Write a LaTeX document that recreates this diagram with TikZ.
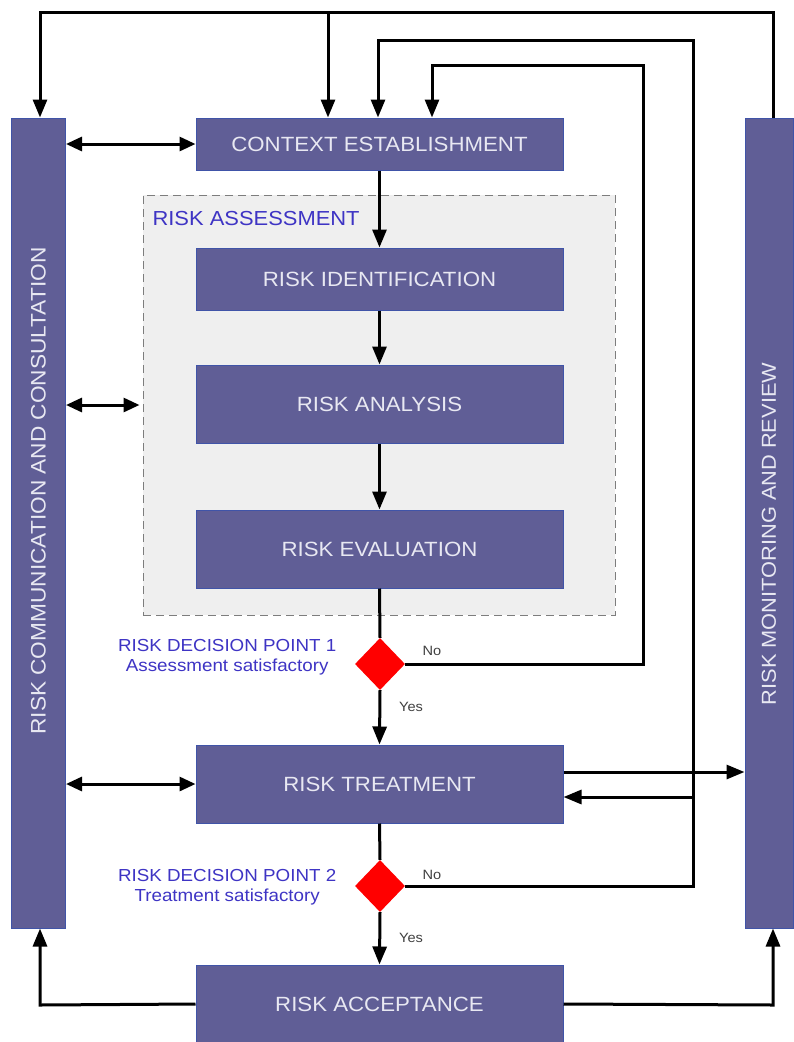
\documentclass[tikz,border=0pt]{standalone}
\usepackage{fontspec}
\setmainfont[FakeStretch=1.08]{Liberation Sans}
\usetikzlibrary{arrows.meta,shapes.geometric}

\definecolor{stagefill}{RGB}{96,94,150}
\definecolor{stageedge}{RGB}{64,84,168}
\definecolor{stagetext}{RGB}{232,232,242}
\definecolor{decisionblue}{RGB}{62,52,196}
\definecolor{assessfill}{RGB}{239,239,239}
\definecolor{assessedge}{RGB}{125,125,125}

\tikzset{
  stage/.style={draw=stageedge, line width=1pt, fill=stagefill, text=stagetext,
    minimum width=367pt, inner sep=0pt, font=\fontsize{20.6}{24}\selectfont},
  sidebar/.style={draw=stageedge, line width=1pt, fill=stagefill,
    minimum height=810pt, inner sep=0pt},
  bartext/.style={text=stagetext, rotate=90, inner sep=0pt},
  decision/.style={diamond, fill=red, minimum width=50pt, minimum height=52pt, inner sep=0pt},
  flow/.style={line width=3pt, -{Triangle[length=18pt,width=14pt]}},
  twoway/.style={line width=3pt, {Triangle[length=16pt,width=14pt]}-{Triangle[length=16pt,width=14pt]}},
  wire/.style={line width=3pt},
  dtext/.style={text=decisionblue, align=center, font=\fontsize{17.4}{19.5}\selectfont},
  answer/.style={text=black!75, font=\fontsize{13.5}{15}\selectfont},
}

\begin{document}
\begin{tikzpicture}[x=1pt,y=-1pt]

  \newcommand\stageX{379.5}
  \useasboundingbox (0,0) rectangle (793,1042);

  %% risk assessment frame
  \node[draw=assessedge, dash pattern=on 8pt off 5pt, line width=1pt, fill=assessfill,
    minimum width=472pt, minimum height=420pt] (assess) at (379,405) {};
  \node[anchor=west, text=decisionblue, font=\fontsize{20.3}{22}\selectfont]
    (assesslbl) at (149,219) {RISK ASSESSMENT};

  %% side bars
  \node[sidebar, minimum width=54pt] (comm) at (38.5,523) {};
  \node[sidebar, minimum width=48pt] (monit) at (769,523) {};
  \node[bartext, font=\fontsize{21}{24}\selectfont] (commlbl) at ([yshift=32pt]comm.center)
    {RISK COMMUNICATION AND CONSULTATION};
  \node[bartext, font=\fontsize{20.2}{24}\selectfont] (monitlbl) at ([yshift=-11pt]monit.center)
    {RISK MONITORING AND REVIEW};

  %% main column
  \node[stage, minimum height=52pt] (ctx) at (\stageX,144) {CONTEXT ESTABLISHMENT};
  \node[stage, minimum height=62pt] (ident) at (\stageX,279) {RISK IDENTIFICATION};
  \node[stage, minimum height=78pt] (anal) at (\stageX,404) {RISK ANALYSIS};
  \node[stage, minimum height=78pt] (evalu) at (\stageX,549) {RISK EVALUATION};
  \node[stage, minimum height=78pt] (treat) at (\stageX,784) {RISK TREATMENT};
  \node[stage, minimum height=78pt] (accept) at (\stageX,1004) {RISK ACCEPTANCE};

  %% decision points
  \node[decision] (dp1) at (380,664) {};
  \node[decision] (dp2) at (380,886) {};
  \node[dtext, anchor=east] (dp1txt) at ([xshift=-15pt,yshift=7pt]dp1.west)
    {RISK DECISION POINT 1\\Assessment satisfactory};
  \node[dtext, anchor=east] (dp2txt) at ([xshift=-15pt,yshift=-1pt]dp2.west)
    {RISK DECISION POINT 2\\Treatment satisfactory};
  \node[answer] (no1) at (432,651) {No};
  \node[answer] (yes1) at (411,707) {Yes};
  \node[answer] (no2) at (432,875) {No};
  \node[answer] (yes2) at (411,938) {Yes};

  %% corner points of the feedback lines
  \coordinate (topL) at (40,12);
  \coordinate (topR) at (773,12);
  \coordinate (topC) at (328,12);
  \coordinate (loopB) at (693,40);
  \coordinate (entryB) at (378,40);
  \coordinate (loopA) at (643,65);
  \coordinate (entryA) at (432,65);
  \coordinate (botL) at (40,1005);
  \coordinate (botR) at (773,1005);
  \coordinate (treatOut) at ([yshift=12pt]treat.east);
  \coordinate (treatIn) at ([yshift=-13pt]treat.east);

  \draw[flow] (topR |- monit.north) -- (topR) -- (topL) -- (topL |- comm.north);
  \draw[flow] (topC) -- (topC |- ctx.north);
  \draw[flow] (dp2.east) -- (loopB |- dp2.east) -- (loopB) -- (entryB) -- (entryB |- ctx.north); %% no -> 2
  \draw[flow] (dp1.east) -- (loopA |- dp1.east) -- (loopA) -- (entryA) -- (entryA |- ctx.north); %% no -> 1
  \draw[flow] (treatOut) -- (treatOut -| monit.west);
  \draw[flow] (treatIn -| loopB) -- (treatIn);

  \draw[twoway] (comm.east |- ctx.west) -- (ctx.west);
  \draw[twoway] (comm.east |- assess.west) -- ([xshift=-3pt]assess.west);
  \draw[twoway] (comm.east |- treat.west) -- (treat.west);

  \draw[flow] (ctx.south) -- (ident.north);
  \draw[flow] (ident.south) -- (anal.north);
  \draw[flow] (anal.south) -- (evalu.north);
  \draw[wire] (evalu.south) -- (dp1.north);
  \draw[flow] (dp1.south) -- (treat.north);
  \draw[wire] (treat.south) -- (dp2.north);
  \draw[flow] (dp2.south) -- (accept.north);

  \draw[flow] (accept.west) -- (botL) -- (botL |- comm.south);
  \draw[flow] (accept.east) -- (botR) -- (botR |- monit.south);

\end{tikzpicture}
\end{document}
